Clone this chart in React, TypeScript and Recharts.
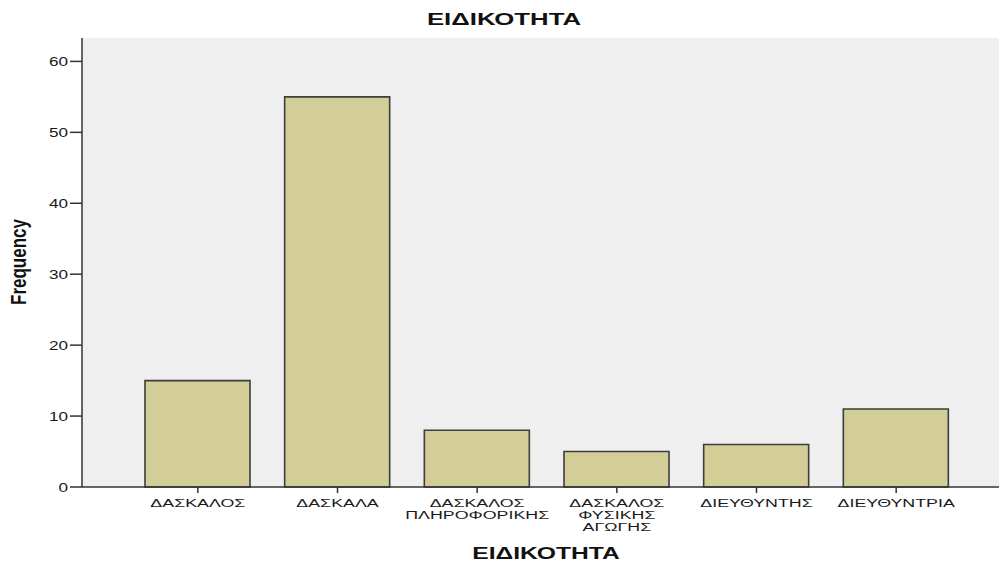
import { BarChart, Bar, XAxis, YAxis, CartesianGrid } from "recharts";

const categories = [
  "ΔΑΣΚΑΛΟΣ",
  "ΔΑΣΚΑΛΑ",
  "ΔΑΣΚΑΛΟΣ\nΠΛΗΡΟΦΟΡΙΚΗΣ",
  "ΔΑΣΚΑΛΟΣ\nΦΥΣΙΚΗΣ\nΑΓΩΓΗΣ",
  "ΔΙΕΥΘΥΝΤΗΣ",
  "ΔΙΕΥΘΥΝΤΡΙΑ",
];
const frequencies = [15, 55, 8, 5, 6, 11];
const yTicks = [0, 10, 20, 30, 40, 50, 60];

const chartTitle = "ΕΙΔΙΚΟΤΗΤΑ";
const xTitle = "ΕΙΔΙΚΟΤΗΤΑ";
const yTitle = "Frequency";

const data = categories.map((name, i) => ({ name, value: frequencies[i] }));

const font = '"Liberation Sans", Arial, sans-serif';

function XTick({ x, y, payload }: any) {
  const lines = String(payload.value).split("\n");
  return (
    <g transform={`translate(${x},${y})`}>
      {lines.map((line, i) => (
        <text
          key={i}
          x={0}
          y={12 + i * 12}
          textAnchor="middle"
          fontSize={11.5}
          fontFamily={font}
          fill="#1a1a1a"
          transform="scale(1.55,1)"
        >
          {line}
        </text>
      ))}
    </g>
  );
}

function YTick({ x, y, payload }: any) {
  return (
    <g transform={`translate(${x},${y})`}>
      <text x={0} y={4.5} textAnchor="end" fontSize={12.5} fontFamily={font} fill="#1a1a1a" transform="scale(1.37,1)">
        {payload.value}
      </text>
    </g>
  );
}

export default function App() {
  return (
    <div style={{ position: "absolute", left: 0, top: 0, width: 999, height: 563, background: "#fff", fontFamily: font }}>
      <div
        style={{
          position: "absolute",
          left: 504,
          top: 19,
          transform: "translate(-50%,-50%) scaleX(1.56)",
          fontWeight: "bold",
          fontSize: 16.5,
          whiteSpace: "nowrap",
          color: "#111",
        }}
      >
        {chartTitle}
      </div>
      <BarChart
        width={999}
        height={563}
        data={data}
        margin={{ top: 38, right: 0, bottom: 0, left: 0 }}
      >
        <CartesianGrid horizontal={false} vertical={false} fill="#EFEFEF" stroke="none" />
        <XAxis
          xAxisId="top"
          orientation="top"
          dataKey="name"
          height={0}
          tick={false}
          tickLine={false}
          axisLine={{ stroke: "#8c8c8c", strokeWidth: 2 }}
          padding={{ left: 46, right: 33 }}
        />
        <XAxis
          dataKey="name"
          height={76}
          interval={0}
          tick={<XTick />}
          tickSize={6}
          tickMargin={2}
          tickLine={{ stroke: "#333", strokeWidth: 1.5 }}
          axisLine={{ stroke: "#333", strokeWidth: 1.5 }}
          padding={{ left: 46, right: 33 }}
        />
        <YAxis
          width={82}
          domain={[0, 63.3]}
          ticks={yTicks}
          tick={<YTick />}
          tickSize={12}
          tickMargin={2}
          tickLine={{ stroke: "#333", strokeWidth: 1.5 }}
          axisLine={{ stroke: "#333", strokeWidth: 1.5 }}
        />
        <Bar
          dataKey="value"
          fill="#D3CE98"
          stroke="#3d3d3d"
          strokeWidth={1.6}
          barSize={105}
          isAnimationActive={false}
        />
      </BarChart>
      <div
        style={{
          position: "absolute",
          left: 546,
          top: 554,
          transform: "translate(-50%,-50%) scaleX(1.45)",
          fontWeight: "bold",
          fontSize: 17,
          whiteSpace: "nowrap",
          color: "#111",
        }}
      >
        {xTitle}
      </div>
      <div
        style={{
          position: "absolute",
          left: 19,
          top: 262,
          transform: "translate(-50%,-50%) scaleX(1.3) rotate(-90deg)",
          fontWeight: "bold",
          fontSize: 17,
          whiteSpace: "nowrap",
          color: "#111",
        }}
      >
        {yTitle}
      </div>
    </div>
  );
}
